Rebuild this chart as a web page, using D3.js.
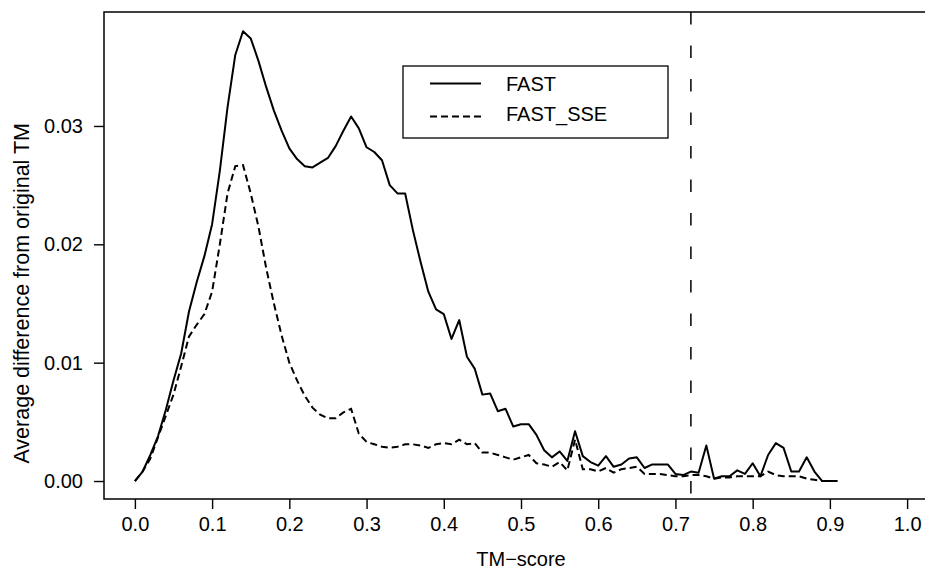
<head>
    <script src="https://d3js.org/d3.v7.min.js"></script>
    <style>
        body { margin: 0; background: #fff; }
        svg text { font-family: "Liberation Sans", Arial, sans-serif; fill: #000; }
    </style>
</head>

<body>
    <svg id="chart" width="925" height="571"></svg>
</body>

<script>
    // TM-score bins (x) and the two averaged differences
    const tmScore = [0.00, 0.01, 0.02, 0.03, 0.04, 0.05, 0.06, 0.07, 0.08, 0.09,
        0.10, 0.11, 0.12, 0.13, 0.14, 0.15, 0.16, 0.17, 0.18, 0.19,
        0.20, 0.21, 0.22, 0.23, 0.24, 0.25, 0.26, 0.27, 0.28, 0.29,
        0.30, 0.31, 0.32, 0.33, 0.34, 0.35, 0.36, 0.37, 0.38, 0.39,
        0.40, 0.41, 0.42, 0.43, 0.44, 0.45, 0.46, 0.47, 0.48, 0.49,
        0.50, 0.51, 0.52, 0.53, 0.54, 0.55, 0.56, 0.57, 0.58, 0.59,
        0.60, 0.61, 0.62, 0.63, 0.64, 0.65, 0.66, 0.67, 0.68, 0.69,
        0.70, 0.71, 0.72, 0.73, 0.74, 0.75, 0.76, 0.77, 0.78, 0.79,
        0.80, 0.81, 0.82, 0.83, 0.84, 0.85, 0.86, 0.87, 0.88, 0.89,
        0.90, 0.91];

    const fastValues = [0, 0.0008, 0.0022, 0.0038, 0.0060, 0.0085, 0.0108, 0.0143, 0.0168, 0.0190,
        0.0217, 0.0262, 0.0316, 0.0360, 0.0380, 0.0374, 0.0355, 0.0333, 0.0313, 0.0296,
        0.0281, 0.0272, 0.0266, 0.0265, 0.0269, 0.0273, 0.0283, 0.0296, 0.0308, 0.0298,
        0.0282, 0.0278, 0.0271, 0.0250, 0.0243, 0.0243, 0.0212, 0.0185, 0.0160, 0.0145,
        0.0141, 0.0120, 0.0136, 0.0105, 0.0095, 0.0073, 0.0074, 0.0059, 0.0061, 0.0046,
        0.0048, 0.0048, 0.0039, 0.0026, 0.0020, 0.0025, 0.0017, 0.0042, 0.0021, 0.0016,
        0.0013, 0.0021, 0.0012, 0.0014, 0.0019, 0.0020, 0.0011, 0.0014, 0.0014, 0.0014,
        0.0006, 0.0005, 0.0008, 0.0007, 0.0030, 0.0002, 0.0004, 0.0004, 0.0009, 0.0006,
        0.0015, 0.0004, 0.0022, 0.0032, 0.0028, 0.0008, 0.0008, 0.0020, 0.0008, 0.0000,
        0.0000, 0.0000];

    const fastSseValues = [0, 0.0008, 0.0019, 0.0037, 0.0055, 0.0073, 0.0097, 0.0122, 0.0132, 0.0141,
        0.0160, 0.0200, 0.0243, 0.0266, 0.0267, 0.0243, 0.0215, 0.0180, 0.0150, 0.0123,
        0.0100, 0.0085, 0.0072, 0.0062, 0.0056, 0.0053, 0.0053, 0.0058, 0.0061, 0.0040,
        0.0033, 0.0031, 0.0029, 0.0028, 0.0029, 0.0031, 0.0031, 0.0030, 0.0028, 0.0031,
        0.0032, 0.0031, 0.0035, 0.0031, 0.0032, 0.0024, 0.0024, 0.0022, 0.0020, 0.0018,
        0.0020, 0.0022, 0.0015, 0.0014, 0.0012, 0.0016, 0.0009, 0.0035, 0.0010, 0.0010,
        0.0008, 0.0011, 0.0007, 0.0010, 0.0011, 0.0012, 0.0006, 0.0006, 0.0006, 0.0005,
        0.0004, 0.0004, 0.0005, 0.0005, 0.0004, 0.0002, 0.0003, 0.0003, 0.0004, 0.0004,
        0.0004, 0.0004, 0.0008, 0.0005, 0.0004, 0.0004, 0.0004, 0.0002, 0.0001, 0.0000];

    const xTicks = [0.0, 0.1, 0.2, 0.3, 0.4, 0.5, 0.6, 0.7, 0.8, 0.9, 1.0];
    const yTicks = [0.00, 0.01, 0.02, 0.03];
    const cutoff = 0.72; // vertical dashed marker
    const seriesNames = ["FAST", "FAST_SSE"];

    const svg = d3.select("#chart");

    // plot region like R's default (4% padding around the data range)
    const x = d3.scaleLinear().domain([-0.04, 1.04]).range([104, 938]);
    const y = d3.scaleLinear().domain([-0.00152, 0.03963]).range([499, 12]);

    // x axis
    const xAxis = svg.append("g")
        .attr("transform", "translate(0,499)")
        .call(d3.axisBottom(x).tickValues(xTicks).tickSize(10).tickPadding(8).tickFormat(d3.format(".1f")));
    xAxis.select(".domain").remove();
    xAxis.selectAll("line").attr("stroke", "#000").attr("stroke-width", 1.4);
    xAxis.selectAll("text").attr("font-size", 20).attr("font-family", null);

    // y axis
    const yAxis = svg.append("g")
        .attr("transform", "translate(104,0)")
        .call(d3.axisLeft(y).tickValues(yTicks).tickSize(10).tickPadding(11).tickFormat(d3.format(".2f")));
    yAxis.select(".domain").remove();
    yAxis.selectAll("line").attr("stroke", "#000").attr("stroke-width", 1.4);
    yAxis.selectAll("text").attr("font-size", 20).attr("font-family", null);

    // box
    svg.append("rect")
        .attr("x", x.range()[0])
        .attr("y", y.range()[1])
        .attr("width", x.range()[1] - x.range()[0])
        .attr("height", y.range()[0] - y.range()[1])
        .attr("fill", "none")
        .attr("stroke", "#000")
        .attr("stroke-width", 1.5);

    // cutoff line
    svg.append("line")
        .attr("x1", x(cutoff)).attr("x2", x(cutoff))
        .attr("y1", y.range()[1]).attr("y2", y.range()[0])
        .attr("stroke", "#000")
        .attr("stroke-width", 1.5)
        .attr("stroke-dasharray", "12.5,21");

    // curves
    const line = d3.line()
        .x(function (d) { return x(d[0]); })
        .y(function (d) { return y(d[1]); });

    svg.append("path")
        .datum(d3.zip(tmScore, fastValues))
        .attr("d", line)
        .attr("fill", "none")
        .attr("stroke", "#000")
        .attr("stroke-width", 2)
        .attr("stroke-linejoin", "round");

    svg.append("path")
        .datum(d3.zip(tmScore.slice(0, fastSseValues.length), fastSseValues))
        .attr("d", line)
        .attr("fill", "none")
        .attr("stroke", "#000")
        .attr("stroke-width", 2)
        .attr("stroke-dasharray", "7,4");

    // axis titles
    svg.append("text")
        .attr("x", (x(0) + x(1)) / 2)
        .attr("y", 566)
        .attr("text-anchor", "middle")
        .attr("font-size", 20)
        .text("TM\u2212score");

    svg.append("text")
        .attr("transform", "translate(29,123) rotate(-90)")
        .attr("text-anchor", "end")
        .attr("font-size", 21.5)
        .text("Average difference from original TM");

    // legend
    const legend = svg.append("g");
    legend.append("rect")
        .attr("x", 403).attr("y", 66)
        .attr("width", 265).attr("height", 72)
        .attr("fill", "#fff")
        .attr("stroke", "#000")
        .attr("stroke-width", 1.3);

    legend.selectAll(".key")
        .data(seriesNames)
        .enter()
        .append("line")
        .attr("x1", 430).attr("x2", 481)
        .attr("y1", function (d, i) { return 83.5 + i * 33; })
        .attr("y2", function (d, i) { return 83.5 + i * 33; })
        .attr("stroke", "#000")
        .attr("stroke-width", 2)
        .attr("stroke-dasharray", function (d, i) { return i === 0 ? null : "7,4"; });

    legend.selectAll(".lab")
        .data(seriesNames)
        .enter()
        .append("text")
        .attr("x", 506)
        .attr("y", function (d, i) { return 91 + i * 29.5; })
        .attr("font-size", 20)
        .text(function (d) { return d; });
</script>
